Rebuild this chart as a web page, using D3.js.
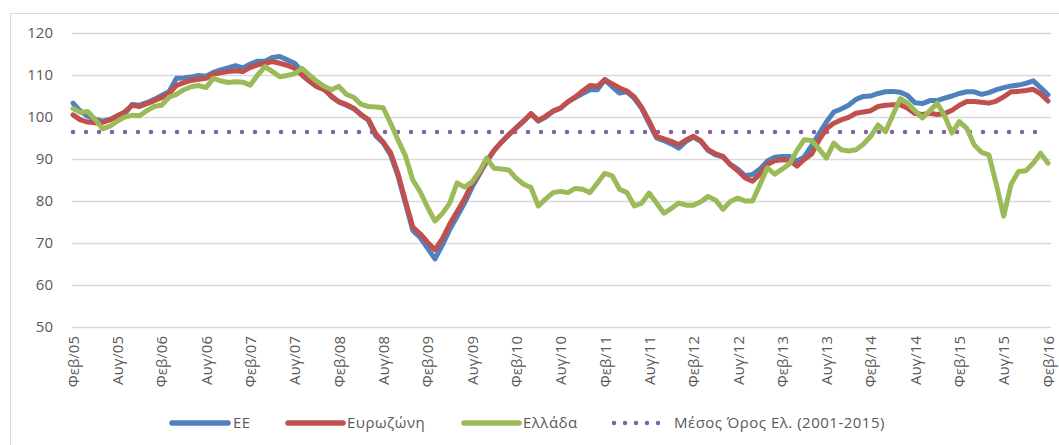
<!DOCTYPE html>
<html>
<head>
<meta charset="utf-8">
<script src="https://cdn.jsdelivr.net/npm/d3@7"></script>
<style>
  body { margin: 0; background: #fff; }
  text { font-family: "Open Sans", "Liberation Sans", sans-serif; fill: #595959; }
</style>
</head>
<body>
<script>
// Monthly values, Feb 2005 .. Feb 2016 (133 months)
const ee = [
  103.3, 101.4, 100.2, 99.5, 99.0, 99.4, 100.2, 100.7, 103.0, 102.8,
  103.4, 104.2, 105.1, 106.0, 109.2, 109.3, 109.5, 109.9, 109.7, 110.6,
  111.2, 111.7, 112.2, 111.7, 112.6, 113.3, 113.3, 114.2, 114.4, 113.6,
  112.8, 110.8, 109.0, 107.5, 106.8, 104.8, 103.6, 102.8, 102.0, 100.5,
  99.2, 95.5, 93.8, 91.0, 86.0, 79.5, 73.0, 71.3, 68.8, 66.2,
  69.5, 73.2, 76.3, 79.5, 83.2, 86.3, 89.4, 92.0, 94.0, 95.8,
  97.4, 99.0, 100.8, 99.0, 100.0, 101.4, 102.1, 103.6, 104.6, 105.6,
  106.5, 106.5, 108.9, 107.2, 105.7, 106.0, 104.4, 102.0, 98.5, 95.0,
  94.4, 93.6, 92.6, 94.2, 95.2, 94.2, 92.0, 91.0, 90.5, 88.7,
  87.6, 86.0, 86.3, 87.6, 89.5, 90.4, 90.6, 90.6, 89.5, 90.5,
  93.2, 96.0, 98.8, 101.2, 101.9, 102.8, 104.2, 104.9, 105.0, 105.6,
  106.0, 106.1, 105.9, 105.1, 103.4, 103.2, 103.9, 103.9, 104.5, 105.0,
  105.6, 106.0, 106.0, 105.4, 105.8, 106.5, 107.0, 107.4, 107.6, 108.0,
  108.6, 107.0, 105.3
];
const ez = [
  100.5, 99.3, 98.8, 98.6, 98.7, 99.3, 100.3, 101.2, 102.8, 102.5,
  103.2, 103.9, 104.6, 105.6, 107.5, 108.2, 108.7, 109.0, 109.2, 110.2,
  110.5, 110.8, 111.0, 110.8, 111.8, 112.4, 112.8, 113.2, 112.8, 112.3,
  111.6, 110.0, 108.5, 107.2, 106.5, 105.0, 103.6, 103.0, 102.1, 100.6,
  99.4, 96.0, 94.0, 91.5, 86.5, 80.0, 73.8, 72.2, 70.2, 68.4,
  71.0, 74.5, 77.5, 80.5, 84.0, 86.6, 89.5, 92.0, 94.0, 95.8,
  97.4, 99.0, 100.8, 99.2, 100.2, 101.4, 102.1, 103.6, 104.8, 106.2,
  107.5, 107.3, 108.9, 107.9, 106.9, 106.2, 104.8, 102.3, 99.0, 95.4,
  94.8, 94.2, 93.4, 94.5, 95.4, 94.3, 92.2, 91.2, 90.6, 88.6,
  87.2, 85.5, 84.7, 86.4, 88.7, 89.6, 89.8, 89.7, 88.3, 89.9,
  91.2, 94.5, 97.2, 98.5, 99.3, 99.9, 100.9, 101.2, 101.5, 102.5,
  102.8, 102.9, 102.9, 102.1, 100.8, 100.6, 100.9, 100.6, 100.8, 101.6,
  102.8, 103.7, 103.7, 103.5, 103.3, 103.8, 104.8, 106.0, 106.1, 106.3,
  106.6, 105.5, 103.8
];
const gr = [
  102.0, 101.1, 101.3, 99.4, 97.2, 97.8, 99.0, 100.0, 100.4, 100.3,
  101.5, 102.5, 102.8, 104.7, 105.4, 106.5, 107.2, 107.5, 107.0, 109.2,
  108.6, 108.2, 108.4, 108.3, 107.6, 110.0, 112.0, 110.8, 109.6, 109.9,
  110.3, 111.6, 110.0, 108.5, 107.3, 106.5, 107.3, 105.4, 104.7, 103.0,
  102.5, 102.4, 102.2, 98.5, 94.5, 90.8, 85.0, 82.2, 78.5, 75.2,
  77.0, 79.5, 84.3, 83.3, 84.5, 87.0, 90.2, 87.8, 87.6, 87.4,
  85.4, 84.0, 83.2, 78.8, 80.5, 82.0, 82.3, 82.0, 83.0, 82.8,
  82.0, 84.3, 86.6, 86.0, 82.8, 82.0, 78.8, 79.5, 81.9, 79.5,
  77.1, 78.2, 79.5, 79.0, 79.0, 79.8, 81.1, 80.2, 78.0, 79.9,
  80.7, 80.0, 80.0, 83.9, 87.9, 86.4, 87.6, 88.8, 92.0, 94.6,
  94.4, 92.4, 90.2, 93.8, 92.2, 91.9, 92.2, 93.5, 95.4, 98.1,
  96.5, 100.5, 104.4, 103.3, 101.5, 99.8, 101.5, 103.3, 100.3, 96.2,
  98.9, 97.3, 93.4, 91.6, 91.0, 84.0, 76.4, 84.0, 87.0, 87.2,
  89.0, 91.4, 89.0
];
const greekAverage = 96.4;
const tickLabels = [
  "Φεβ/05", "Αυγ/05", "Φεβ/06", "Αυγ/06", "Φεβ/07", "Αυγ/07", "Φεβ/08", "Αυγ/08",
  "Φεβ/09", "Αυγ/09", "Φεβ/10", "Αυγ/10", "Φεβ/11", "Αυγ/11", "Φεβ/12", "Αυγ/12",
  "Φεβ/13", "Αυγ/13", "Φεβ/14", "Αυγ/14", "Φεβ/15", "Αυγ/15", "Φεβ/16"
];
const seriesNames = ["ΕΕ", "Ευρωζώνη", "Ελλάδα", "Μέσος Όρος Ελ. (2001-2015)"];
const yTicks = [50, 60, 70, 80, 90, 100, 110, 120];

const colors = ["#4F81BD", "#C0504D", "#9BBB59", "#8064A2"];

const width = 1059, height = 445;
const svg = d3.select("body").append("svg")
  .attr("width", width)
  .attr("height", height);

// outer frame
svg.append("rect")
  .attr("x", 10.5).attr("y", 13.5)
  .attr("width", 1070).attr("height", 450)
  .attr("fill", "none")
  .attr("stroke", "#d9d9d9");

const x = d3.scaleLinear().domain([0, ee.length - 1]).range([73, 1048]);
const y = d3.scaleLinear().domain([50, 120]).range([327, 33]);

// y axis + gridlines
const gy = svg.append("g")
  .attr("transform", "translate(72,0)")
  .call(d3.axisLeft(y).tickValues(yTicks).tickSize(-979).tickPadding(19));
gy.select(".domain").remove();
gy.selectAll(".tick line").attr("stroke", "#d9d9d9").attr("stroke-width", 1.3);
gy.selectAll(".tick text").style("font-size", "15px").attr("fill", "#595959");

// x axis labels
const gx = svg.append("g")
  .attr("transform", "translate(0,327)")
  .call(d3.axisBottom(x)
    .tickValues(d3.range(0, ee.length, 6))
    .tickFormat(i => tickLabels[i / 6])
    .tickSize(0));
gx.select(".domain").remove();
gx.selectAll(".tick text")
  .attr("transform", "rotate(-90)")
  .attr("text-anchor", "end")
  .attr("x", -9)
  .attr("y", 0)
  .attr("dy", "0.35em")
  .style("font-size", "15px")
  .attr("fill", "#595959");

const line = d3.line()
  .x((d, i) => x(i))
  .y(d => y(d));

// average line (dotted)
const avg = ee.map(() => greekAverage);
svg.append("path")
  .datum(avg)
  .attr("d", line)
  .attr("fill", "none")
  .attr("stroke", colors[3])
  .attr("stroke-width", 4.5)
  .attr("stroke-linecap", "round")
  .attr("stroke-dasharray", "0 13");

[ee, ez, gr].forEach((s, k) => {
  svg.append("path")
    .datum(s)
    .attr("d", line)
    .attr("fill", "none")
    .attr("stroke", colors[k])
    .attr("stroke-width", 5)
    .attr("stroke-linejoin", "round")
    .attr("stroke-linecap", "round");
});

// legend
const legendX = [[172, 228, 233], [288, 343, 347], [464, 519, 523], [614, 662, 674]];
const legendY = 423;
const lg = svg.append("g");
seriesNames.forEach((name, k) => {
  const [x0, x1, tx] = legendX[k];
  lg.append("line")
    .attr("x1", x0).attr("x2", x1)
    .attr("y1", legendY).attr("y2", legendY)
    .attr("stroke", colors[k])
    .attr("stroke-width", k === 3 ? 4.5 : 5.5)
    .attr("stroke-linecap", "round")
    .attr("stroke-dasharray", k === 3 ? "0 11" : null);
  lg.append("text")
    .attr("x", tx).attr("y", legendY)
    .attr("dy", "0.35em")
    .style("font-size", "15px")
    .style("letter-spacing", "0.5px")
    .text(name);
});
</script>
</body>
</html>
